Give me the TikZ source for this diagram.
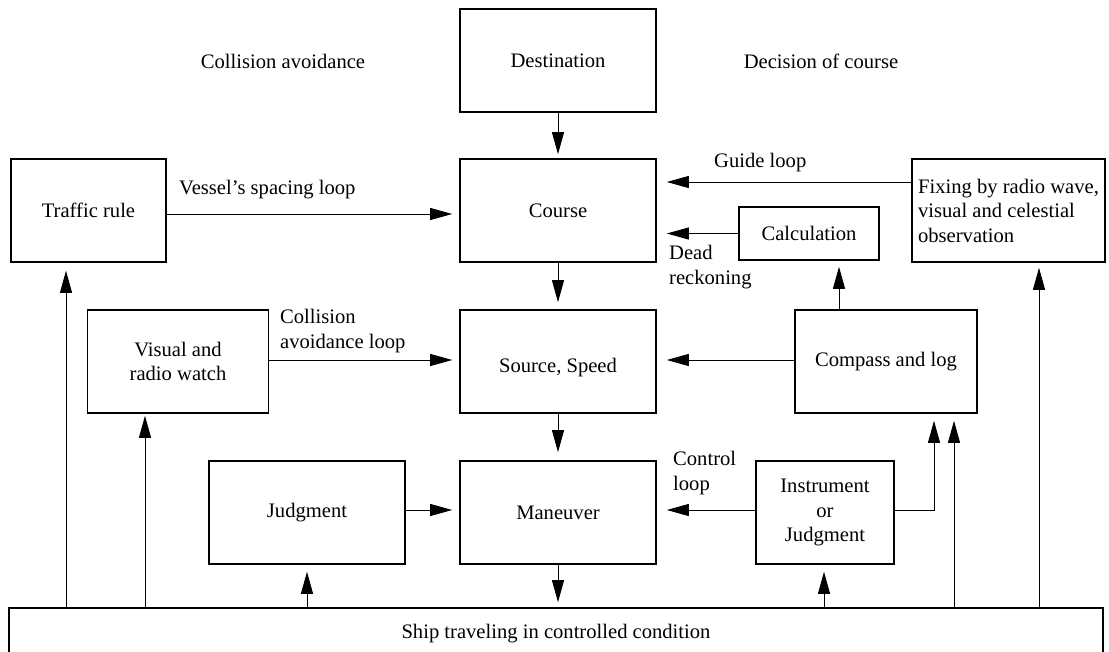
\documentclass[tikz,border=0pt]{standalone}
\usepackage{fontspec}
\setmainfont{Liberation Serif}
\usetikzlibrary{arrows.meta}
\begin{document}
\begin{tikzpicture}[x=1pt,y=-1pt,
  every node/.style={font=\fontsize{20.6}{24.5}\selectfont},
  box/.style 2 args={draw, line width=1.6pt, inner sep=0pt, align=center,
    minimum width=#1pt, minimum height=#2pt},
  lbl/.style={inner sep=0pt, align=left},
  arr/.style={line width=0.9pt, -{Triangle[length=22pt,width=12pt]}, shorten >=6pt},
  ]
\useasboundingbox (0,0) rectangle (1109,652);

% headings
\node[lbl] (hcoll) at (283,61) {Collision avoidance};
\node[lbl] (hdec)  at (821,61) {Decision of course};

% blocks
\node[box={196}{103}] (dest)    at (558,60.5)   {Destination};
\node[box={196}{103}] (course)  at (558,210.5)  {Course};
\node[box={155}{103}] (traffic) at (88.5,210.5) {Traffic rule};
\node[box={193}{103}, align=left] (fixing) at (1008.5,210.5)
  {Fixing by radio wave,\\visual and celestial\\observation};
\node[box={140}{53}]  (calc)    at (809,233.5)  {Calculation};
\node[box={181}{103}] (visual)  at (178,361.5)  {Visual and\\radio watch};
\node[box={196}{103}] (source)  at (558,361.5)  {\raisebox{-6pt}[\height][\depth]{Source, Speed}};
\node[box={182}{103}] (compass) at (886,361.5)  {Compass and log};
\node[box={196}{103}] (judg)    at (307,512.5)  {Judgment};
\node[box={196}{103}] (man)     at (558,512.5)  {Maneuver};
\node[box={138}{103}] (instr)   at (825,512.5)  {Instrument\\or\\Judgment};
\node[box={1094}{52}] (ship)    at (556,634)    {Ship traveling in controlled condition};

% loop labels
\node[lbl, anchor=west] (lvessel)  at (179,190) {Vessel’s spacing loop};
\node[lbl, anchor=west] (lguide)   at (714,163) {Guide loop};
\node[lbl, anchor=west] (ldead)    at (669,267) {Dead\\reckoning};
\node[lbl, anchor=west] (lcoll)    at (280,331) {Collision\\avoidance loop};
\node[lbl, anchor=west] (lcontrol) at (673,473) {Control\\loop};

% main chain
\draw[arr, shorten >=4pt] (dest) -- (course);
\draw[arr, shorten >=7pt] (course) -- (source);
\draw[arr, shorten >=8pt] (source) -- (man);
\draw[arr, shorten >=5pt] (man) -- (man.south |- ship.north);

% loops into the chain
\draw[arr, shorten >=7pt] (traffic.east |- 0,214) -- (course.west |- 0,214);
\draw[arr, shorten >=10pt] (fixing.west |- 0,182) -- (course.east |- 0,182);
\draw[arr, shorten >=10pt] (calc.west) -- (calc.west -| course.east);
\draw[arr, shorten >=7pt] (visual.east |- 0,360) -- (source.west |- 0,360);
\draw[arr, shorten >=10pt] (compass.west |- 0,360) -- (source.east |- 0,360);
\draw[arr, shorten >=7pt] (judg.east |- 0,510) -- (man.west |- 0,510);
\draw[arr, shorten >=10pt] (instr.west |- 0,510) -- (man.east |- 0,510);
\draw[arr, shorten >=6pt] (compass.north -| 839,0) -- (calc.south -| 839,0);
\draw[arr, shorten >=7pt] (instr.east |- 0,510) -| (compass.south -| 934,0);

% feedback from the ship
\draw[arr, shorten >=8pt] (ship.north -| 66,0)   -- (traffic.south -| 66,0);
\draw[arr, shorten >=2pt] (ship.north -| 145,0)  -- (visual.south -| 145,0);
\draw[arr, shorten >=7pt] (ship.north -| judg.south) -- (judg.south);
\draw[arr, shorten >=7pt] (ship.north -| 824,0)  -- (instr.south -| 824,0);
\draw[arr, shorten >=7pt] (ship.north -| 954,0)  -- (compass.south -| 954,0);
\draw[arr, shorten >=5pt] (ship.north -| 1039,0) -- (fixing.south -| 1039,0);
\end{tikzpicture}
\end{document}
